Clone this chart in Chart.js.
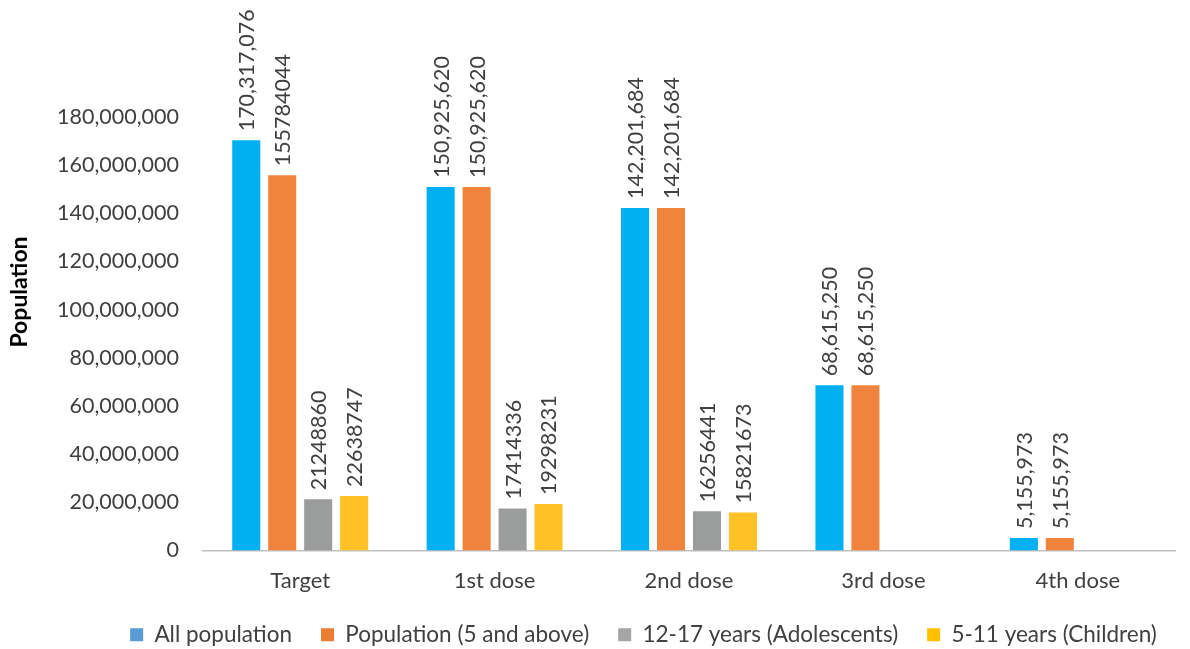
<!DOCTYPE html>
<html>
<head>
<meta charset="utf-8">
<script src="https://cdn.jsdelivr.net/npm/chart.js@4/dist/chart.umd.min.js"></script>
<style>
html,body{margin:0;padding:0;background:#fff;}
#wrap{width:1190px;height:649px;}
</style>
</head>
<body>
<div id="wrap"><canvas id="c" width="1190" height="649"></canvas></div>
<script>
const categories = ['Target', '1st dose', '2nd dose', '3rd dose', '4th dose'];
const seriesNames = ['All population', 'Population (5 and above)', '12-17 years (Adolescents)', '5-11 years (Children)'];
const allPopulation = [170317076, 150925620, 142201684, 68615250, 5155973];
const population5Plus = [155784044, 150925620, 142201684, 68615250, 5155973];
const adolescents = [21248860, 17414336, 16256441, null, null];
const children = [22638747, 19298231, 15821673, null, null];
// whether each data label is shown with thousands separators (as in the source)
const commaAll = [true, true, true, true, true];
const comma5Plus = [false, true, true, true, true];
const commaAdol = [false, false, false, false, false];
const commaChild = [false, false, false, false, false];
const yTickMax = 180000000;
const yTickStep = 20000000;
const yTitle = 'Population';

const barColors = ['#00B0F0', '#F0843C', '#9B9D9D', '#FFC125'];
const legendColors = ['#5B9BD5', '#ED7D31', '#A5A5A5', '#FFC000'];
const FONT = 'Lato, "Open Sans", sans-serif';
const TXT = '#404040';

const seriesValues = [allPopulation, population5Plus, adolescents, children];
const seriesComma = [commaAll, comma5Plus, commaAdol, commaChild];

const labelPlugin = {
  id: 'barLabels',
  afterLayout(chart) {
    // shift legend to the right like the source layout
    const lg = chart.legend;
    if (lg) { lg.left += 56; lg.right += 56; }
  },
  afterDatasetsDraw(chart) {
    const ctx = chart.ctx;
    ctx.save();
    ctx.font = '21.5px ' + FONT;
    ctx.fillStyle = TXT;
    ctx.textAlign = 'left';
    ctx.textBaseline = 'middle';
    chart.data.datasets.forEach((ds, di) => {
      const meta = chart.getDatasetMeta(di);
      meta.data.forEach((bar, i) => {
        const v = ds.data[i];
        if (v === null || v === undefined) return;
        const txt = seriesComma[di][i] ? v.toLocaleString('en-US') : String(v);
        ctx.save();
        ctx.translate(bar.x, bar.y - 9);
        ctx.rotate(-Math.PI / 2);
        ctx.fillText(txt, 0, 1);
        ctx.restore();
      });
    });
    // y axis title
    ctx.save();
    ctx.font = 'bold 23px ' + FONT;
    ctx.fillStyle = '#000';
    ctx.textAlign = 'center';
    ctx.textBaseline = 'middle';
    ctx.translate(20, 292);
    ctx.rotate(-Math.PI / 2);
    ctx.fillText(yTitle, 0, 0);
    ctx.restore();
    ctx.restore();
  }
};

new Chart(document.getElementById('c'), {
  type: 'bar',
  data: {
    labels: categories,
    datasets: seriesNames.map((n, k) => ({
      label: n,
      data: seriesValues[k],
      backgroundColor: barColors[k],
      borderWidth: 0,
      categoryPercentage: 0.74,
      barPercentage: 0.78
    }))
  },
  options: {
    responsive: false,
    animation: false,
    layout: { padding: { top: 117, right: 15, left: 0, bottom: -7 } },
    plugins: {
      legend: {
        position: 'bottom',
        labels: {
          font: { family: FONT, size: 22.5 },
          color: TXT,
          boxWidth: 13,
          boxHeight: 13,
          padding: 29,
          generateLabels(chart) {
            return chart.data.datasets.map((ds, k) => ({
              text: ds.label,
              fillStyle: legendColors[k],
              strokeStyle: legendColors[k],
              lineWidth: 0,
              hidden: false,
              datasetIndex: k,
              fontColor: TXT
            }));
          }
        }
      },
      tooltip: { enabled: false }
    },
    scales: {
      x: {
        grid: { display: false, drawTicks: false },
        border: { color: '#BFBFBF', width: 1.5 },
        ticks: { font: { family: FONT, size: 22 }, color: TXT, padding: 17 },
        afterFit(s) { s.height = 44; }
      },
      y: {
        min: 0,
        max: yTickMax,
        grid: { display: false, drawTicks: false },
        border: { display: false },
        ticks: {
          stepSize: yTickStep,
          font: { family: FONT, size: 21.5 },
          color: TXT,
          padding: 24,
          callback: v => v.toLocaleString('en-US')
        },
        afterFit(s) { s.width = 203; }
      }
    }
  },
  plugins: [labelPlugin]
});
</script>
</body>
</html>
